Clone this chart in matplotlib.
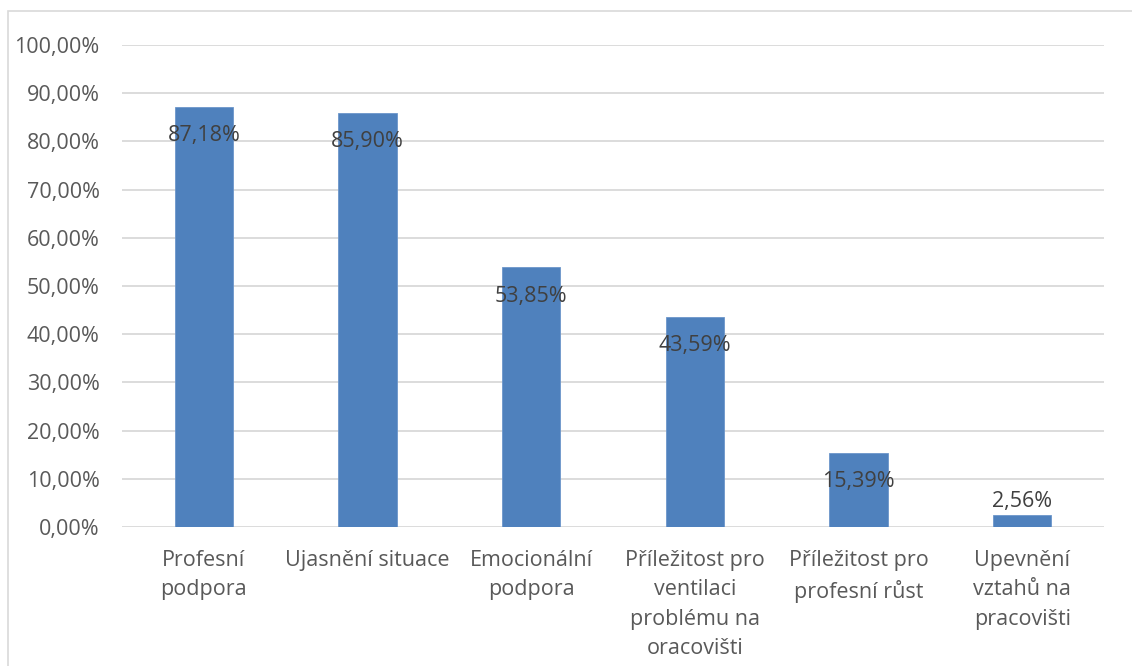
import matplotlib.pyplot as plt
from matplotlib.patches import Rectangle
from matplotlib.ticker import FuncFormatter, MultipleLocator

kategorie = [
    'Profesní\npodpora',
    'Ujasnění situace',
    'Emocionální\npodpora',
    'Příležitost pro\nventilaci\nproblému na\noracovišti',
    'Příležitost pro\nprofesní růst',
    'Upevnění\nvztahů na\npracovišti',
]
podil = [87.18, 85.90, 53.85, 43.59, 15.39, 2.56]

plt.rcParams['font.family'] = ['Open Sans', 'DejaVu Sans']
fs = 15.5

fig = plt.figure(figsize=(11.32, 6.66), dpi=100)
ax = fig.add_axes([122 / 1132, 1 - 527 / 666, (1104 - 122) / 1132, (527 - 45) / 666])

x = range(len(kategorie))
ax.bar(x, podil, width=0.355, color='#4F81BD', edgecolor='#6C96CA', linewidth=0.6, zorder=3)

# popisky hodnot - uvnitř sloupce, u nízkého sloupce nad ním
for i, v in enumerate(podil):
    text = f'{v:.2f}%'.replace('.', ',')
    dy = -29 if v > 8 else 13
    ax.annotate(text, (i, v), xytext=(0, dy), textcoords='offset pixels',
                ha='center', va='center', fontsize=fs, color='#404040', zorder=4)

ax.set_ylim(0, 100)
ax.set_xlim(-0.5, len(kategorie) - 0.5)
ax.yaxis.set_major_locator(MultipleLocator(10))
ax.yaxis.set_major_formatter(FuncFormatter(lambda v, p: f'{v:.2f}%'.replace('.', ',')))
ax.grid(axis='y', color='#D9D9D9', linewidth=1.3, zorder=0)

ax.set_xticks(list(x))
ax.set_xticklabels(kategorie, linespacing=1.53)
ax.tick_params(axis='x', length=0, pad=16.5, labelsize=fs, labelcolor='#595959')
ax.tick_params(axis='y', length=0, pad=16, labelsize=fs, labelcolor='#595959')
for s in ax.spines.values():
    s.set_visible(False)

# rámeček grafu
fig.patches.append(Rectangle((8 / 1132, -0.1), 1.2, 1 - 11 / 666 + 0.1, transform=fig.transFigure,
                             fill=False, edgecolor='#D9D9D9', linewidth=1.2))

fig.savefig('out.png', dpi=100)
